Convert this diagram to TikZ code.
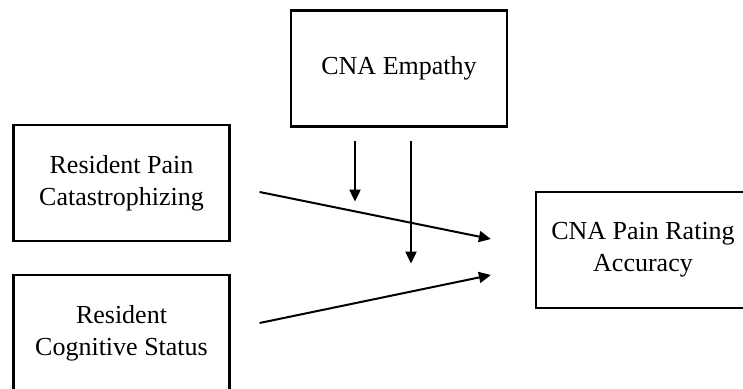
\documentclass[tikz,border=0pt]{standalone}
\usepackage{fontspec}
\setmainfont{Liberation Serif}
\usetikzlibrary{arrows.meta, positioning}

\begin{document}
\begin{tikzpicture}[x=0.5pt, y=-0.5pt,
    var/.style={draw, line width=1.1pt, fill=white, minimum width=108pt, minimum height=58pt, align=center, inner sep=0pt, font=\fontsize{13}{16}\selectfont},
    effect/.style={line width=1pt, -{Triangle[length=6pt, width=5.5pt]}}]
    \clip (0,0) rectangle (743,389);

    % Variable boxes
    \node[var] (empathy) at (399,68.5) {CNA Empathy};
    \node[var] (catast) at (121.5,183) {Resident Pain\\Catastrophizing};
    \node[var] (cognitive) at (121.5,333) {Resident\\Cognitive Status};
    \node[var, minimum width=107pt] (accuracy) at (643,250) {CNA Pain Rating\\Accuracy};

    % Main effects
    \draw[effect] ([xshift=14.5pt, yshift=-4.5pt]catast.east) -- ([xshift=-22pt, yshift=5.5pt]accuracy.west);
    \draw[effect] ([xshift=14.5pt, yshift=5pt]cognitive.east) -- ([xshift=-22pt, yshift=-12.5pt]accuracy.west);

    % Moderation by empathy
    \draw[effect] ([xshift=-22pt, yshift=-6.5pt]empathy.south) -- ++(0,61);
    \draw[effect] ([xshift=6pt, yshift=-6.5pt]empathy.south) -- ++(0,123);
\end{tikzpicture}
\end{document}
